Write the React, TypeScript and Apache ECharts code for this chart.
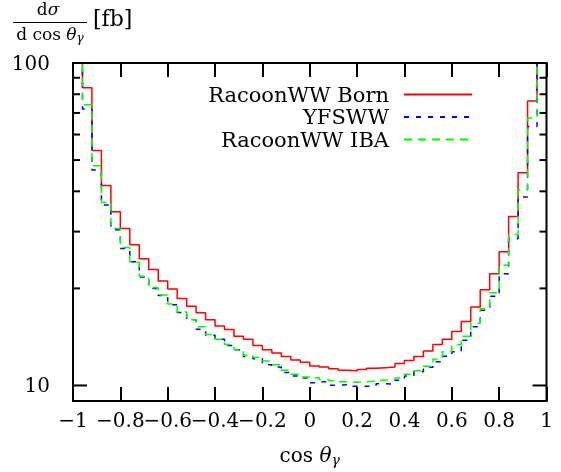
import { useEffect, useRef } from 'react';
import * as echarts from 'echarts';

// Histogram bins: 50 bins of width 0.04 on cos(theta_gamma) in [-1, 1]
const BIN_START = -1;
const BIN_WIDTH = 0.04;

const seriesNames = ['RacoonWW Born', 'YFSWW', 'RacoonWW IBA'];

const bornValues = [
  135, 83.8, 53.5, 41.7, 34.6, 30.7, 27.3, 24.7, 22.9, 21.1,
  19.9, 18.6, 17.6, 16.8, 16.0, 15.3, 14.9, 14.2, 13.9, 13.3,
  12.9, 12.6, 12.3, 12.0, 11.8, 11.5, 11.4, 11.26, 11.15, 11.1,
  11.2, 11.3, 11.35, 11.4, 11.7, 11.95, 12.3, 12.8, 13.4, 13.9,
  14.7, 15.8, 17.5, 19.8, 22.2, 26.0, 33.4, 45.7, 76.3, 135,
];

const yfswwValues = [
  125, 72, 46.6, 36.3, 30.4, 26.6, 24.2, 21.7, 20.0, 19.0,
  17.8, 16.85, 16.0, 14.95, 14.3, 13.9, 13.3, 12.9, 12.3, 12.1,
  11.6, 11.4, 10.97, 10.7, 10.55, 10.2, 10.26, 10.02, 10.05, 9.95,
  9.95, 9.95, 10.13, 10.1, 10.38, 10.69, 11.02, 11.38, 11.84, 12.33,
  12.72, 13.8, 15.2, 17.1, 18.9, 22.2, 28.5, 38.4, 63.6, 125,
];

const ibaValues = [
  125, 74.2, 48.0, 36.9, 30.7, 26.8, 24.1, 21.8, 20.1, 19.07,
  17.9, 16.9, 16.0, 15.2, 14.4, 13.9, 13.4, 12.9, 12.4, 12.2,
  11.9, 11.6, 11.15, 10.84, 10.63, 10.57, 10.43, 10.35, 10.26, 10.24,
  10.26, 10.31, 10.38, 10.43, 10.55, 10.83, 11.1, 11.48, 12.07, 12.72,
  13.37, 14.2, 15.6, 17.3, 19.4, 23.6, 29.4, 40.4, 67.5, 125,
];

const xMin = -1;
const xMax = 1;
const xInterval = 0.2;
const yMin = 8.95;
const yMax = 100;
const yTickValues = [10, 20, 30, 40, 50, 60, 70, 80, 90, 100];
const yMajorTicks = [10, 100];

const FONT = "'DejaVu Serif', serif";

function histSteps(values: number[]) {
  const pts = values.map((v, i) => [BIN_START + i * BIN_WIDTH, v]);
  pts.push([BIN_START + values.length * BIN_WIDTH, values[values.length - 1]]);
  return pts;
}

const fmtX = (v: number) => {
  const r = Math.round(v * 10) / 10;
  if (Math.abs(r) < 1e-9) return '0';
  return (r < 0 ? '\u2212' : '') + String(Math.abs(r));
};

export default function App() {
  const ref = useRef<HTMLDivElement>(null);
  useEffect(() => {
    if (!ref.current) return;
    const chart = echarts.init(ref.current, undefined, { renderer: 'svg' });

    const lineSeries = [
      { name: seriesNames[0], values: bornValues, color: '#ff0000', dash: 'solid' as any },
      { name: seriesNames[1], values: yfswwValues, color: '#0000ff', dash: [5, 7] },
      { name: seriesNames[2], values: ibaValues, color: '#00ff00', dash: [8, 6] },
    ].map((s) => ({
      type: 'line',
      name: s.name,
      data: histSteps(s.values),
      step: 'end',
      showSymbol: false,
      symbol: 'none',
      clip: true,
      lineStyle: { color: s.color, width: 1.5, type: s.dash },
      itemStyle: { color: s.color },
      z: 2,
    }));

    const legendTops = [84, 106.5, 129];

    const axisTickCommon = {
      show: true,
      inside: true,
      length: 14,
      lineStyle: { color: '#000', width: 2 },
    };

    chart.setOption({
      animation: false,
      grid: {
        left: 73,
        top: 63,
        width: 473.5,
        height: 338.5,
        show: true,
        borderColor: '#000',
        borderWidth: 2,
        backgroundColor: 'transparent',
      },
      legend: seriesNames.map((name, i) => ({
        data: [name],
        right: 88,
        top: legendTops[i],
        orient: 'horizontal',
        align: 'right',
        itemWidth: 68,
        itemHeight: 14,
        itemGap: 0,
        padding: 0,
        selectedMode: false,
        itemStyle: { opacity: 0, borderWidth: 0 },
        textStyle: { fontFamily: FONT, fontSize: 21, lineHeight: 20, color: '#000', padding: [0, 10, 0, 0] },
      })),
      xAxis: [
        {
          type: 'value',
          min: xMin,
          max: xMax,
          interval: xInterval,
          position: 'bottom',
          axisLine: { show: false },
          splitLine: { show: false },
          axisTick: axisTickCommon,
          axisLabel: {
            formatter: fmtX,
            fontFamily: FONT,
            fontSize: 20,
            color: '#000',
            margin: 9,
            hideOverlap: false,
          },
          name: '{r|cos }{i|\u03b8}{s|\u03b3}',
          nameLocation: 'middle',
          nameGap: 42,
          nameTextStyle: {
            rich: {
              r: { fontFamily: FONT, fontSize: 20, color: '#000', lineHeight: 24 },
              i: { fontFamily: FONT, fontSize: 20, fontStyle: 'italic', color: '#000', lineHeight: 24 },
              s: { fontFamily: FONT, fontSize: 14, fontStyle: 'italic', color: '#000', lineHeight: 12, verticalAlign: 'bottom' },
            },
          },
        },
        {
          type: 'value',
          min: xMin,
          max: xMax,
          interval: xInterval,
          position: 'top',
          axisLine: { show: false },
          splitLine: { show: false },
          axisTick: axisTickCommon,
          axisLabel: { show: false },
        },
      ],
      yAxis: {
        type: 'log',
        logBase: 10,
        min: yMin,
        max: yMax,
        axisLine: { show: false },
        axisTick: { show: false },
        splitLine: { show: false },
        axisLabel: {
          formatter: (v: number) => {
            const m = yMajorTicks.find((t) => Math.abs(t - v) < 1e-6 * t);
            return m !== undefined ? String(m) : '';
          },
          fontFamily: FONT,
          fontSize: 20,
          color: '#000',
          margin: 23,
        },
      },
      graphic: [
        {
          type: 'text',
          x: 48,
          y: 9,
          style: {
            text: '{r|d}{i|\u03c3}',
            align: 'center',
            verticalAlign: 'middle',
            rich: {
              r: { fontFamily: FONT, fontSize: 17, fill: '#000' },
              i: { fontFamily: FONT, fontSize: 17, fontStyle: 'italic', fill: '#000' },
            },
          },
        },
        {
          type: 'line',
          shape: { x1: 13, y1: 22.5, x2: 87, y2: 22.5 },
          style: { stroke: '#000', lineWidth: 1 },
        },
        {
          type: 'text',
          x: 50,
          y: 34,
          style: {
            text: '{r|d cos }{i|\u03b8}{s|\u03b3}',
            align: 'center',
            verticalAlign: 'middle',
            rich: {
              r: { fontFamily: FONT, fontSize: 17, fill: '#000', lineHeight: 20 },
              i: { fontFamily: FONT, fontSize: 17, fontStyle: 'italic', fill: '#000', lineHeight: 20 },
              s: { fontFamily: FONT, fontSize: 12, fontStyle: 'italic', fill: '#000', lineHeight: 10, verticalAlign: 'bottom' },
            },
          },
        },
        {
          type: 'text',
          x: 93,
          y: 18,
          style: {
            text: '[fb]',
            align: 'left',
            verticalAlign: 'middle',
            fontFamily: FONT,
            fontSize: 22,
            fill: '#000',
          },
        },
      ],
      series: [
        ...lineSeries,
        {
          type: 'custom',
          name: 'yticks',
          silent: true,
          clip: false,
          z: 3,
          data: yTickValues.map((v) => [xMin, v]),
          renderItem: (params: any, api: any) => {
            const v = api.value(1);
            const l = api.coord([xMin, v]);
            const r = api.coord([xMax, v]);
            const len = yMajorTicks.indexOf(v) >= 0 ? 14 : 7;
            return {
              type: 'group',
              children: [
                { type: 'line', shape: { x1: l[0], y1: l[1], x2: l[0] + len, y2: l[1] }, style: { stroke: '#000', lineWidth: 2 } },
                { type: 'line', shape: { x1: r[0] - len, y1: r[1], x2: r[0], y2: r[1] }, style: { stroke: '#000', lineWidth: 2 } },
              ],
            };
          },
        },
      ],
    });
    return () => chart.dispose();
  }, []);
  return <div ref={ref} style={{ position: 'fixed', left: 0, top: 0, width: 561, height: 472 }} />;
}
